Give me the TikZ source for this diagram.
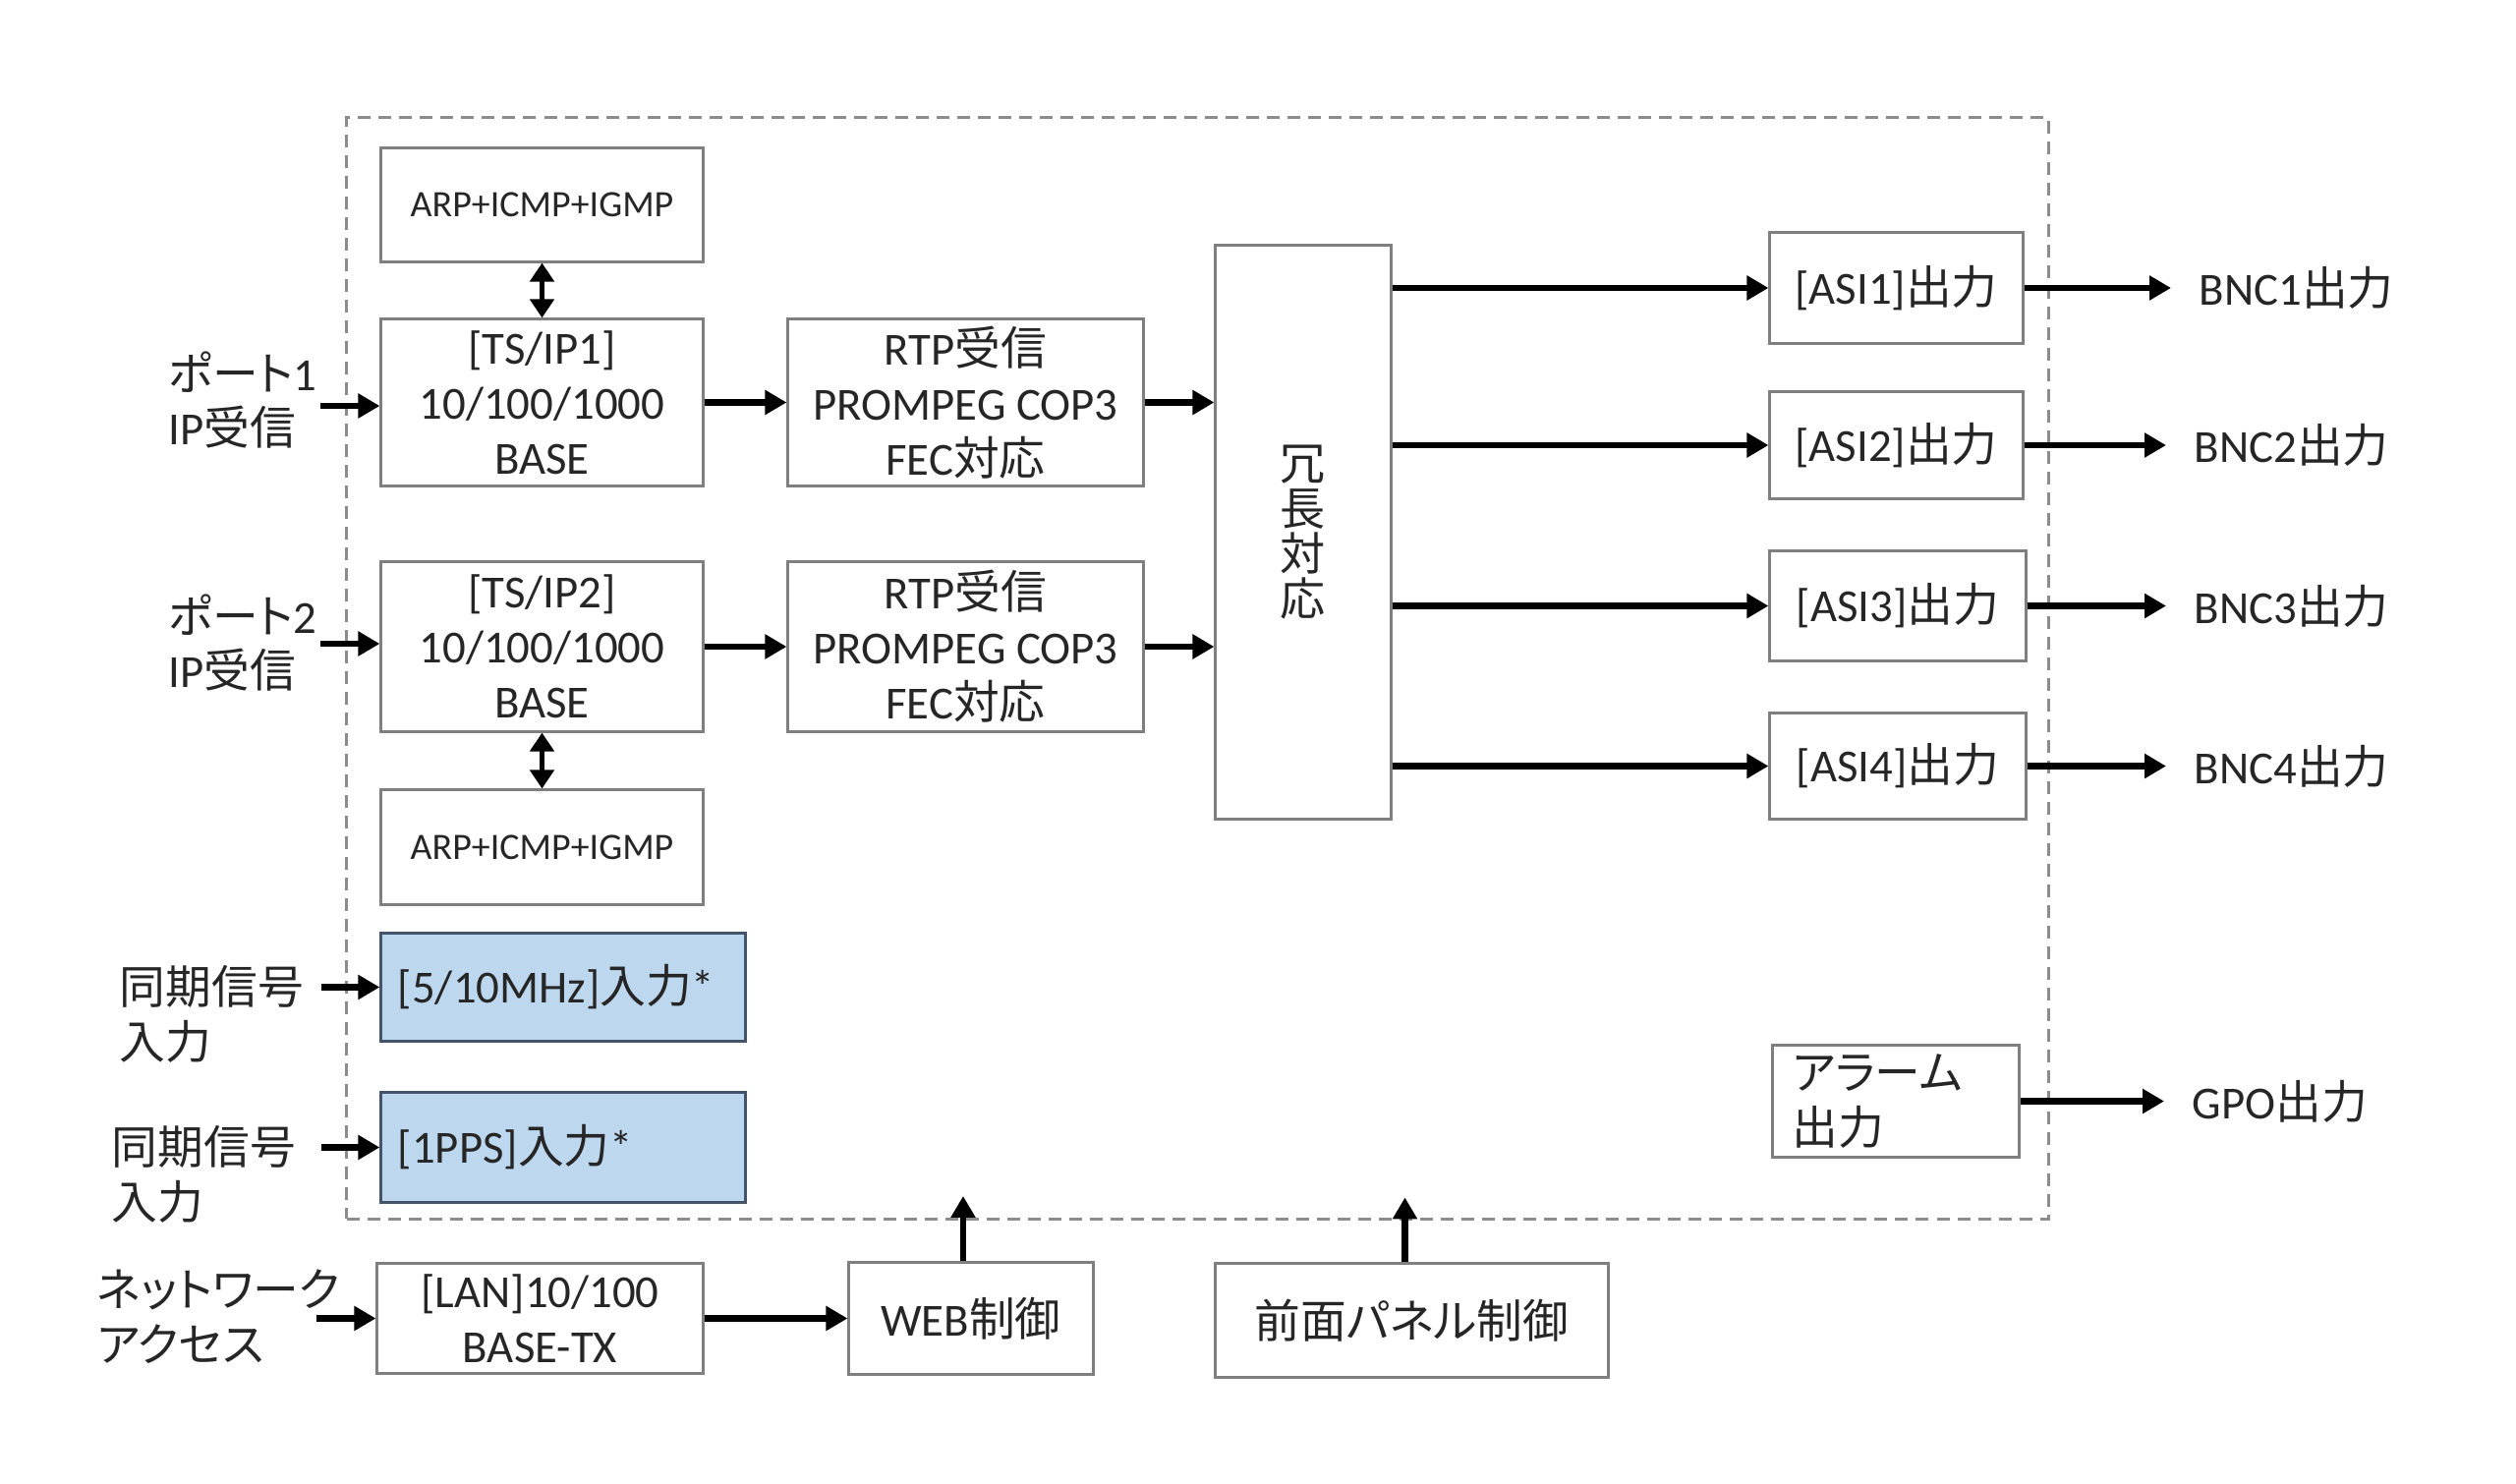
\documentclass[tikz,border=0pt]{standalone}
\usepackage{fontspec}
\setmainfont{Carlito}
\newfontfamily\jp{Noto Sans CJK JP}[RawFeature=+palt]
\newcommand{\ja}[1]{{\jp #1}}
\usetikzlibrary{arrows.meta}
\definecolor{txt}{HTML}{262626}
\definecolor{boxline}{HTML}{7F7F7F}
\definecolor{bluefill}{HTML}{BDD7EE}
\definecolor{blueline}{HTML}{44546A}
\definecolor{dashline}{HTML}{8C8C8C}
\begin{document}
\begin{tikzpicture}[x=0.01cm,y=-0.01cm,
  every node/.style={text=txt, font=\fontsize{13.3pt}{15.9pt}\selectfont},
  blk/.style={draw=boxline, line width=0.03cm, fill=white, inner sep=0pt, align=center},
  syncbox/.style={draw=blueline, fill=bluefill, line width=0.03cm, inner xsep=0.17cm, inner ysep=0pt, align=left, text width=3.36cm, minimum width=3.70cm},
  lbl/.style={inner sep=0pt, align=left, anchor=west},
  outlbl/.style={inner xsep=0.28cm, inner ysep=0pt, anchor=west},
  flow/.style={-{Triangle[length=0.22cm,width=0.24cm]}, line width=0.065cm, black},
  bidir/.style={{Triangle[length=0.19cm,width=0.24cm]}-{Triangle[length=0.19cm,width=0.24cm]}, line width=0.055cm, black},
]
\useasboundingbox (0,0) rectangle (2560,1510);

% device outline
\node[draw=dashline, line width=0.03cm, dash pattern=on 0.13cm off 0.08cm, inner sep=0pt,
      minimum width=17.31cm, minimum height=11.20cm] (unit) at (1218.5,680) {};

% blocks
\node[blk, minimum width=3.27cm, minimum height=1.15cm, font=\fontsize{10.8pt}{13pt}\selectfont] (arp1) at (551.5,208.5) {ARP+ICMP+IGMP};
\node[blk, minimum width=3.27cm, minimum height=1.69cm] (ts1) at (551.5,409.5) {[TS/IP1]\\10/100/1000\\BASE};
\node[blk, minimum width=3.61cm, minimum height=1.69cm] (rtp1) at (982.5,409.5) {RTP\ja{受信}\\PROMPEG COP3\\FEC\ja{対応}};
\node[blk, minimum width=3.27cm, minimum height=1.72cm] (ts2) at (551.5,658) {[TS/IP2]\\10/100/1000\\BASE};
\node[blk, minimum width=3.61cm, minimum height=1.72cm] (rtp2) at (982.5,658) {RTP\ja{受信}\\PROMPEG COP3\\FEC\ja{対応}};
\node[blk, minimum width=3.27cm, minimum height=1.16cm, font=\fontsize{10.8pt}{13pt}\selectfont] (arp2) at (551.5,862) {ARP+ICMP+IGMP};

\node[syncbox, minimum height=1.09cm] (mhz) at (573,1004.5) {[5/10MHz]\ja{入力}*};
\node[syncbox, minimum height=1.11cm] (pps) at (573,1167.5) {[1PPS]\ja{入力}*};

\node[blk, minimum width=1.78cm, minimum height=5.83cm, font=\fontsize{13.1pt}{13.1pt}\selectfont\jp] (red) at (1326,541.5) {冗\\長\\対\\応};

\node[blk, minimum width=2.57cm, minimum height=1.12cm] (asi1) at (1929.5,293) {[ASI1]\ja{出力}};
\node[blk, minimum width=2.57cm, minimum height=1.08cm] (asi2) at (1929.5,453) {[ASI2]\ja{出力}};
\node[blk, minimum width=2.60cm, minimum height=1.11cm] (asi3) at (1931,616.5) {[ASI3]\ja{出力}};
\node[blk, minimum width=2.60cm, minimum height=1.07cm] (asi4) at (1931,779.5) {[ASI4]\ja{出力}};
\node[blk, align=left, inner xsep=0.20cm, text width=2.10cm, minimum width=2.50cm, minimum height=1.13cm] (alarm) at (1929,1120.5) {\ja{アラーム}\\\ja{出力}};

\node[blk, minimum width=3.31cm, minimum height=1.11cm] (lan) at (549.5,1341.5) {[LAN]10/100\\BASE-TX};
\node[blk, minimum width=2.48cm, minimum height=1.14cm] (web) at (988,1341.5) {WEB\ja{制御}};
\node[blk, minimum width=3.99cm, minimum height=1.15cm] (front) at (1436.5,1343.5) {\ja{前面パネル制御}};

% outside labels
\node[lbl] (port1) at (171,407) {\ja{ポート}1\\IP\ja{受信}};
\node[lbl] (port2) at (171,654) {\ja{ポート}2\\IP\ja{受信}};
\node[lbl] (sync1) at (121,1032) {\ja{同期信号}\\\ja{入力}};
\node[lbl] (sync2) at (113,1195) {\ja{同期信号}\\\ja{入力}};
\node[lbl] (net) at (98,1340) {\ja{ネットワーク}\\\ja{アクセス}};

\node[outlbl] (bnc1) at (2209,293) {BNC1\ja{出力}};
\node[outlbl] (bnc2) at (2204,453) {BNC2\ja{出力}};
\node[outlbl] (bnc3) at (2204,616.5) {BNC3\ja{出力}};
\node[outlbl] (bnc4) at (2204,779.5) {BNC4\ja{出力}};
\node[outlbl] (gpo) at (2202,1120.5) {GPO\ja{出力}};

\coordinate (port1s) at (326,413);
\coordinate (port2s) at (326,655);
\coordinate (sync1s) at (327,1004.5);
\coordinate (sync2s) at (327,1167.5);
\coordinate (nets) at (322,1341.5);

% connectors
\draw[flow] (port1s) -- (port1s -| ts1.west);
\draw[flow] (port2s) -- (port2s -| ts2.west);
\draw[flow] (sync1s) -- (sync1s -| mhz.west);
\draw[flow] (sync2s) -- (sync2s -| pps.west);
\draw[flow] (nets) -- (nets -| lan.west);

\draw[bidir] (arp1.south) -- (ts1.north);
\draw[bidir] (ts2.south) -- (arp2.north);

\draw[flow] (ts1.east) -- (rtp1.west);
\draw[flow] (ts2.east) -- (rtp2.west);
\draw[flow] (rtp1.east) -- (rtp1.east -| red.west);
\draw[flow] (rtp2.east) -- (rtp2.east -| red.west);

\draw[flow] (red.east |- asi1.west) -- (asi1.west);
\draw[flow] (red.east |- asi2.west) -- (asi2.west);
\draw[flow] (red.east |- asi3.west) -- (asi3.west);
\draw[flow] (red.east |- asi4.west) -- (asi4.west);

\draw[flow] (asi1.east) -- (asi1.east -| bnc1.west);
\draw[flow] (asi2.east) -- (bnc2.west);
\draw[flow] (asi3.east) -- (bnc3.west);
\draw[flow] (asi4.east) -- (bnc4.west);
\draw[flow] (alarm.east) -- (gpo.west);

\draw[flow] (lan.east) -- (lan.east -| web.west);
\draw[flow] ([xshift=-0.08cm]web.north) -- ++(0,-66);
\draw[flow] ([xshift=-0.07cm]front.north) -- ++(0,-66);
\end{tikzpicture}
\end{document}
